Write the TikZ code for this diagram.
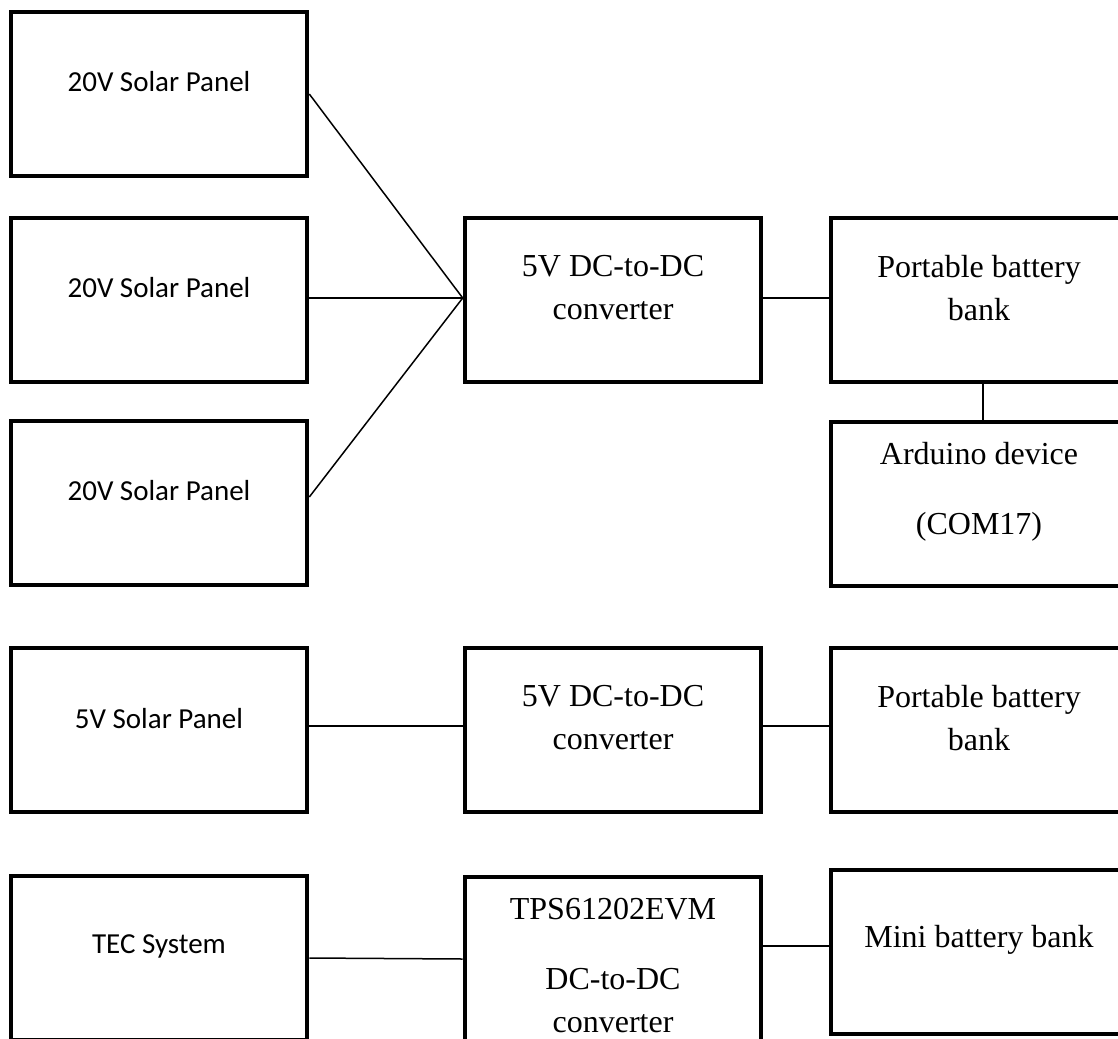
\documentclass[tikz,border=0pt]{standalone}
\usepackage{fontspec}
\setmainfont{Liberation Serif}
\newfontfamily\calibri{Carlito}

\begin{document}
\begin{tikzpicture}[x=0.5pt,y=-0.5pt,
  blk/.style={draw,line width=2.3pt,minimum width=148pt,minimum height=82pt,inner sep=0pt},
  sanslbl/.style={font=\calibri\fontsize{14.5}{17}\selectfont},
  seriflbl/.style={font=\fontsize{16}{21.5}\selectfont,align=center},
  wire/.style={line width=0.75pt}]
\useasboundingbox (0,0) rectangle (1118,1038);
\clip (0,0) rectangle (1118,1038);

% boxes
\node[blk] (sp1) at (159,94) {};
\node[blk] (sp2) at (159,300) {};
\node[blk] (sp3) at (159,503) {};
\node[blk] (cv1) at (613,300) {};
\node[blk] (bb1) at (979,300) {};
\node[blk] (ard) at (979,504) {};
\node[blk] (sp4) at (159,730) {};
\node[blk] (cv2) at (613,730) {};
\node[blk] (bb2) at (979,730) {};
\node[blk] (tec) at (159,958) {};
\node[blk] (tps) at (613,959) {};
\node[blk] (mini) at (979,952) {};

% labels
\node[sanslbl] (sp1t) at (159,82) {20V Solar Panel};
\node[sanslbl] (sp2t) at (159,288) {20V Solar Panel};
\node[sanslbl] (sp3t) at (159,491) {20V Solar Panel};
\node[seriflbl] (cv1t) at (613,288) {5V DC-to-DC\\converter};
\node[seriflbl] (bb1t) at (979,288) {Portable battery\\bank};
\node[seriflbl] (ardt) at (979,492) {Arduino device\\[13.5pt](COM17)};
\node[sanslbl] (sp4t) at (159,719) {5V Solar Panel};
\node[seriflbl] (cv2t) at (613,718) {5V DC-to-DC\\converter};
\node[seriflbl] (bb2t) at (979,718) {Portable battery\\bank};
\node[sanslbl] (tect) at (159,946) {TEC System};
\node[seriflbl] (tpst) at (613,966) {TPS61202EVM\\[13.5pt]DC-to-DC\\converter};
\node[seriflbl] (minit) at (979,940) {Mini battery bank};

% wires
\draw[wire] (sp1.east) -- ([yshift=1pt]cv1.west);
\draw[wire] ([yshift=1pt]sp2.east) -- ([yshift=1pt]cv1.west);
\draw[wire] ([yshift=3pt]sp3.east) -- ([yshift=1pt]cv1.west);
\draw[wire] ([yshift=1pt]cv1.east) -- ([yshift=1pt]bb1.west);
\draw[wire] ([xshift=2pt]bb1.south) -- ([xshift=2pt]ard.north);
\draw[wire] ([yshift=2pt]sp4.east) -- ([yshift=2pt]cv2.west);
\draw[wire] ([yshift=2pt]cv2.east) -- ([yshift=2pt]bb2.west);
\draw[wire] (tec.east) -- (tps.west);
\draw[wire] ([yshift=3pt]tps.east |- mini.west) -- ([yshift=3pt]mini.west);
\end{tikzpicture}
\end{document}
